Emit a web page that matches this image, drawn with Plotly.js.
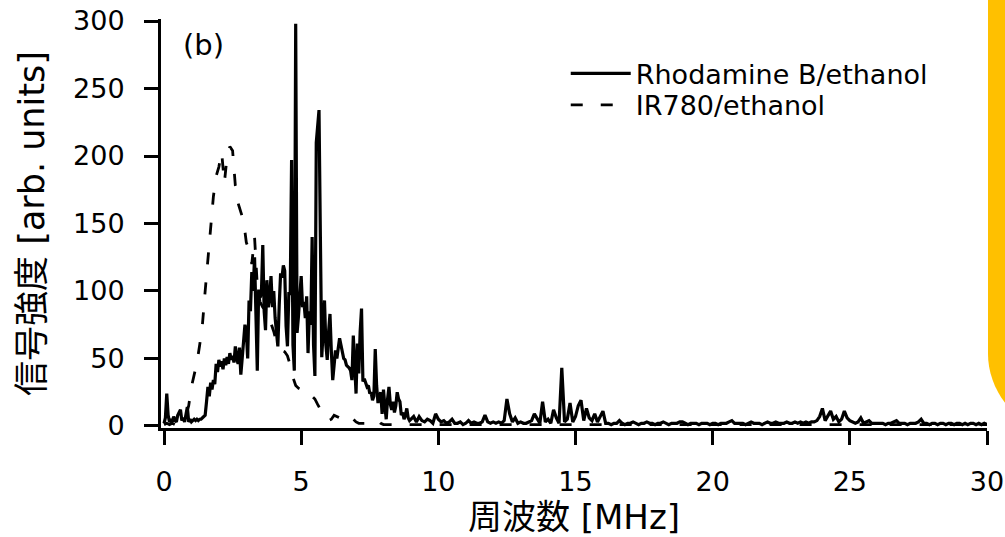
<!DOCTYPE html>
<html>
<head>
<meta charset="utf-8">
<script src="https://cdn.plot.ly/plotly-3.0.1.min.js"></script>
<style>
  html, body { margin: 0; padding: 0; background: #ffffff; overflow: hidden; }
  #chart { width: 1005px; height: 537px; }
</style>
</head>
<body>
<div id="chart"></div>
<script>
// ---------------- data ----------------
// Rhodamine B/ethanol, 0.00 – 9.00 MHz, step 0.05 MHz
const rhoFineStart = 0.0;
const rhoFineStep = 0.05;
const rhoFine = [
  2,6,24,8,3,4,3,7,4,3,8,10,12,4,6,3,8,14,3,5,
  3,4,5,4,5,4,5,5,6,7,8,18,29,22,32,27,34,31,46,40,
  49,44,48,42,50,45,51,46,54,49,52,47,59,50,46,58,38,50,62,75,
  70,50,93,85,114,100,125,69,41,101,95,98,134,85,71,108,88,95,111,88,
  100,80,69,59,90,113,110,119,115,74,59,98,98,197,60,41,298,69,81,100,
  111,88,92,80,96,54,85,75,140,60,37,210,222,234,140,51,70,93,60,49,
  70,83,55,34,45,56,50,58,65,60,55,50,49,45,44,43,41,34,67,40,
  24,61,39,70,87,33,35,32,29,30,24,25,19,22,57,30,17,22,25,9,
  27,15,5,20,29,16,12,18,10,15,25,20,18,8,10,5,8,13,6,4,
  5
];
// Rhodamine B/ethanol, 9.1 – 30.0 MHz, step 0.1 MHz
const rhoCoarseStart = 9.1;
const rhoCoarseStep = 0.1;
const rhoCoarse = [
  7,3,7,4,3,5,4,2,9,5,
  3,4,2,3,5,2,2,3,1,2,
  4,2,3,2,2,3,8,3,2,3,
  2,3,2,4,20,9,3,6,2,3,
  2,2,3,4,9,6,2,18,3,5,
  2,12,6,2,43,3,5,17,3,7,
  15,19,4,13,6,4,9,3,7,11,
  2,2,1,2,2,4,2,1,2,2,
  3,2,1,2,2,3,2,2,1,2,
  2,3,2,1,2,2,2,3,3,2,
  1,2,2,2,1,2,2,2,1,2,
  2,1,2,2,2,3,4,2,2,2,
  2,1,2,3,2,2,2,1,2,3,
  2,2,3,2,2,2,3,2,2,3,
  2,3,2,3,2,3,3,4,7,13,
  4,8,11,5,7,3,5,11,6,4,
  3,2,3,6,2,3,4,2,2,2,
  2,2,1,2,2,3,4,2,2,2,
  1,2,2,2,3,5,2,2,1,2,
  2,1,2,2,1,2,2,1,2,2,
  1,2,1,2,2,1,2,1,2,1
];
// IR780/ethanol, 0.0 – 8.0 MHz, step 0.1 MHz
const irMainStart = 0.0;
const irMainStep = 0.1;
const irMain = [
  1,2,1,2,1,2,3,4,8,15,
  29,37,47,60,75,100,125,148,170,185,
  192,203,180,200,207,204,178,165,158,152,
  136,130,120,140,104,92,88,85,80,76,
  70,62,58,56,55,52,45,36,30,28,
  27,28,25,24,22,20,16,12,8,5,
  4,5,8,7,6,4,3,4,6,5,
  3,2,2,2,2,3,2,3,4,2,
  1
];
// IR780/ethanol, 8.5 – 30.0 MHz, step 0.5 MHz
const irTailStart = 8.5;
const irTailStep = 0.5;
const irTail = [
  1,1,1,1,1,1,1,1,1,1,
  1,1,1,1,1,1,1,1,1,1,
  1,1,1,1,1,1,1,1,1,1,
  1,1,1,1,1,1,1,1,1,1,
  1,1,1,1
];

const seriesNames = ["Rhodamine B/ethanol", "IR780/ethanol"];
const xTickValues = [0, 5, 10, 15, 20, 25, 30];
const xTickLabels = ["0", "5", "10", "15", "20", "25", "30"];
const yTickValues = [0, 50, 100, 150, 200, 250, 300];
const yTickLabels = ["0", "50", "100", "150", "200", "250", "300"];
const xTitle = "周波数 [MHz]";
const yTitle = "信号強度 [arb. units]";
const panelLabel = "(b)";

// frequency grid for each sampled block
function grid(start, step, n) {
  const out = [];
  for (let i = 0; i < n; i++) out.push(+(start + i * step).toFixed(3));
  return out;
}

const rhoX = grid(rhoFineStart, rhoFineStep, rhoFine.length)
  .concat(grid(rhoCoarseStart, rhoCoarseStep, rhoCoarse.length));
const rhoY = rhoFine.concat(rhoCoarse);
const irX = grid(irMainStart, irMainStep, irMain.length)
  .concat(grid(irTailStart, irTailStep, irTail.length));
const irY = irMain.concat(irTail);

const FONT = "DejaVu Sans, Noto Sans CJK JP, sans-serif";

const traces = [
  {
    type: "scatter", mode: "lines", name: seriesNames[1], legend: "legend2",
    x: irX, y: irY,
    line: { color: "#000000", width: 2.8, dash: "12px,18px" }
  },
  {
    type: "scatter", mode: "lines", name: seriesNames[0], legend: "legend",
    x: rhoX, y: rhoY,
    line: { color: "#000000", width: 3.2 }
  }
];

const legendStyle = {
  xanchor: "left", yanchor: "top",
  bgcolor: "rgba(0,0,0,0)", borderwidth: 0,
  font: { family: FONT, size: 27, color: "#000000" },
  itemwidth: 60
};

const layout = {
  width: 1005, height: 537,
  margin: { l: 161, r: 18, t: 19, b: 109 },
  paper_bgcolor: "#ffffff", plot_bgcolor: "#ffffff",
  font: { family: FONT, color: "#000000", size: 26 },
  showlegend: true,
  legend: Object.assign({ x: 0.49, y: 0.926 }, legendStyle),
  legend2: Object.assign({ x: 0.49, y: 0.849 }, legendStyle),
  xaxis: {
    range: [-0.11, 30], showgrid: false, zeroline: false,
    showline: true, linecolor: "#000000", linewidth: 3,
    ticks: "outside", ticklen: 14, tickwidth: 3, tickcolor: "#000000",
    tickmode: "array", tickvals: xTickValues, ticktext: xTickLabels,
    tickfont: { family: FONT, size: 27 }, ticklabelstandoff: 14,
    title: { text: xTitle, font: { family: FONT, size: 34 }, standoff: 8 }
  },
  yaxis: {
    range: [-1.5, 301.5], showgrid: false, zeroline: false,
    showline: true, linecolor: "#000000", linewidth: 3,
    ticks: "outside", ticklen: 14, tickwidth: 3, tickcolor: "#000000",
    tickmode: "array", tickvals: yTickValues, ticktext: yTickLabels,
    tickfont: { family: FONT, size: 27 }, ticklabelstandoff: 14,
    ticklabeloverflow: "allow",
    title: { text: yTitle, font: { family: FONT, size: 35 }, standoff: 18 }
  },
  annotations: [
    {
      text: panelLabel, xref: "paper", yref: "paper",
      x: 0.024, y: 0.982, xanchor: "left", yanchor: "top",
      showarrow: false, font: { family: FONT, size: 29, color: "#000000" }
    }
  ],
  shapes: [
    {
      type: "path", xref: "paper", yref: "paper", layer: "above",
      path: "M1.00121,1.04902 L1.00121,0.18137 C1.00121,0.08260 1.04080,-0.01 1.08959,-0.01 L1.13680,-0.01 L1.13680,1.04902 Z",
      fillcolor: "#FFC000", line: { width: 0 }
    }
  ]
};

Plotly.newPlot("chart", traces, layout, { staticPlot: true, displayModeBar: false });
</script>
</body>
</html>
